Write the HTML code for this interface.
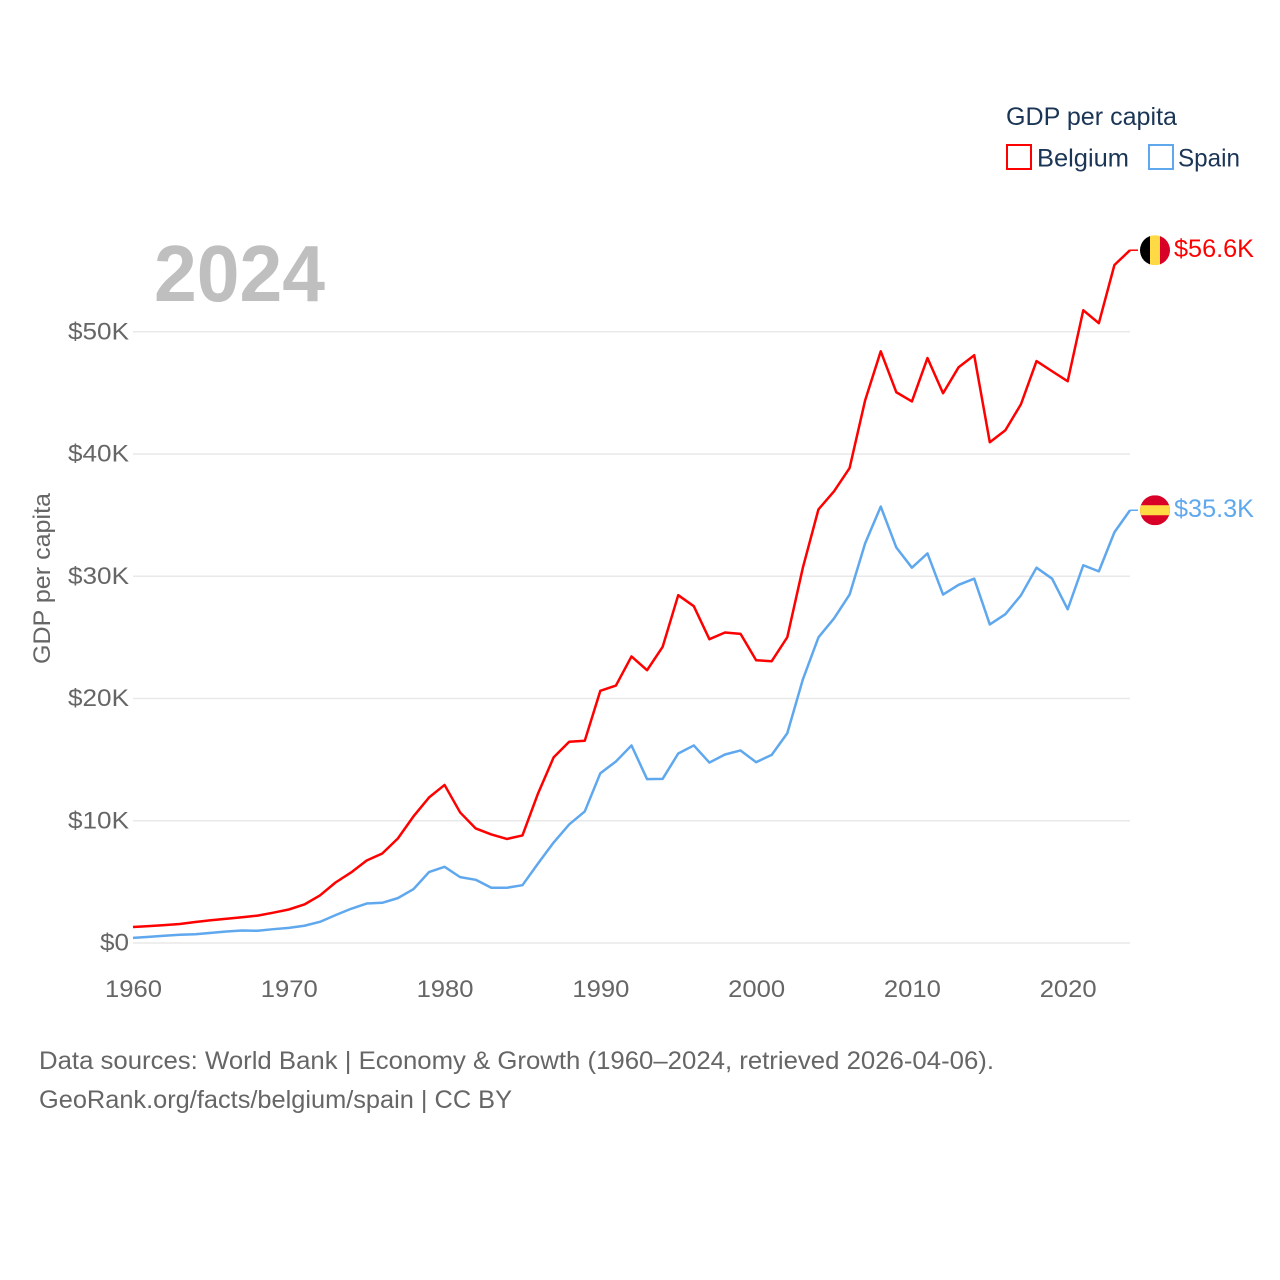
<!DOCTYPE html>
<html lang="en">
<head>
<meta charset="utf-8">
<title>GDP per capita: Belgium and Spain</title>
<style>
html,body{margin:0;padding:0;background:#fff;}
svg{display:block;}
text{font-family:"Liberation Sans",sans-serif;}
</style>
</head>
<body>
<svg id="chart" width="1280" height="1280" viewBox="0 0 1280 1280" xmlns="http://www.w3.org/2000/svg">
  <defs>
    <clipPath id="clip-be"><circle id="clip-be-c" r="15"></circle></clipPath>
    <clipPath id="clip-es"><circle id="clip-es-c" r="15"></circle></clipPath>
  </defs>
  <rect width="1280" height="1280" fill="#fff"></rect>
  <text x="154" y="301" font-size="80" font-weight="700" fill="#bfbfbf" textLength="171" lengthAdjust="spacingAndGlyphs">2024</text>
  <g id="grid"></g>
  <g id="yticks"></g>
  <g id="xticks"></g>
  <text transform="translate(50,578.5) rotate(-90)" text-anchor="middle" font-size="24.5" fill="#666" textLength="171" lengthAdjust="spacingAndGlyphs">GDP per capita</text>
  <g id="series"></g>
  <g>
    <text x="1006" y="125" font-size="25" fill="#1a3555" textLength="171" lengthAdjust="spacingAndGlyphs">GDP per capita</text>
    <g>
      <rect x="1007" y="145" width="24" height="24" fill="none" stroke="#ff0000" stroke-width="2"></rect>
      <text x="1037" y="166.5" font-size="25" fill="#1a3555" textLength="92" lengthAdjust="spacingAndGlyphs">Belgium</text>
    </g>
    <g>
      <rect x="1149" y="145" width="24" height="24" fill="none" stroke="#5fa8ee" stroke-width="2"></rect>
      <text x="1178" y="166.5" font-size="25" fill="#1a3555" textLength="62" lengthAdjust="spacingAndGlyphs">Spain</text>
    </g>
  </g>
  <text x="39" y="1069" font-size="25" fill="#666" textLength="955" lengthAdjust="spacingAndGlyphs">Data sources: World Bank | Economy &amp; Growth (1960–2024, retrieved 2026-04-06).</text>
  <text x="39" y="1108" font-size="25" fill="#666" textLength="473" lengthAdjust="spacingAndGlyphs">GeoRank.org/facts/belgium/spain | CC BY</text>
</svg>
<script>
var startYear = 1960;
var belgium = [1.31,1.38,1.46,1.55,1.72,1.86,1.98,2.11,2.24,2.48,2.74,3.15,3.89,4.95,5.77,6.75,7.32,8.55,10.35,11.9,12.93,10.68,9.37,8.88,8.51,8.8,12.23,15.18,16.46,16.54,20.63,21.06,23.44,22.32,24.23,28.45,27.55,24.85,25.4,25.29,23.13,23.05,25.01,30.7,35.47,36.95,38.85,44.4,48.4,45.05,44.3,47.85,44.97,47.1,48.08,40.96,41.94,44.07,47.6,46.77,45.95,51.76,50.7,55.46,56.67];
var spain = [0.42,0.5,0.59,0.67,0.72,0.83,0.94,1.02,1.0,1.13,1.24,1.41,1.73,2.28,2.8,3.23,3.29,3.67,4.4,5.8,6.23,5.39,5.17,4.52,4.52,4.73,6.5,8.22,9.7,10.76,13.89,14.85,16.16,13.4,13.43,15.5,16.16,14.76,15.42,15.75,14.79,15.39,17.16,21.56,25,26.55,28.5,32.7,35.7,32.35,30.7,31.87,28.5,29.3,29.8,26.06,26.9,28.44,30.7,29.8,27.3,30.9,30.4,33.6,35.4];
var yTickValues = [0,10,20,30,40,50];
var yTickLabels = ["$0","$10K","$20K","$30K","$40K","$50K"];
var xTickValues = [1960,1970,1980,1990,2000,2010,2020];
var xTickLabels = ["1960","1970","1980","1990","2000","2010","2020"];
var endLabels = ["$56.6K","$35.3K"];

var NS = "http://www.w3.org/2000/svg";
function xScale(year){ return 133 + (year - 1960) * (1130 - 133) / 64; }
function yScale(v){ return 943 - v * 12.225; }
function mk(tag, attrs, parent){
  var el = document.createElementNS(NS, tag);
  for (var k in attrs) el.setAttribute(k, attrs[k]);
  parent.appendChild(el);
  return el;
}
var grid = document.getElementById("grid");
var yticks = document.getElementById("yticks");
var xticks = document.getElementById("xticks");
var seriesG = document.getElementById("series");

yTickValues.forEach(function(v, i){
  var line = mk("line", {x1:133, x2:1130, y1:yScale(v), y2:yScale(v), stroke:"#e9e9e9", "stroke-width":1.5}, grid);
  
  
  var t = mk("text", {x:129, y:yScale(v)+7.5, "text-anchor":"end", "font-size":24.5, fill:"#666"}, yticks);
  
  
  t.textContent = yTickLabels[i];
  t.setAttribute("textLength", yTickLabels[i].length === 2 ? 29 : 61);
  t.setAttribute("lengthAdjust", "spacingAndGlyphs");
});
xTickValues.forEach(function(v, i){
  var t = mk("text", {x:xScale(v)+0.5, y:997, "text-anchor":"middle", "font-size":24.5, fill:"#666", textLength:57, lengthAdjust:"spacingAndGlyphs"}, xticks);
  
  
  t.textContent = xTickLabels[i];
});
function pathFor(values){
  return values.map(function(v, i){
    return (i ? "L" : "M") + xScale(startYear + i).toFixed(2) + " " + yScale(v).toFixed(2);
  }).join(" ");
}
function drawEnd(values, color, clipId, clipCircleId, labelText){
  var last = values[values.length - 1];
  var yEnd = yScale(last);
  var xEnd = xScale(startYear + values.length - 1);
  var stub = mk("line", {x1:xEnd, x2:xEnd + 8, y1:yEnd, y2:yEnd, stroke:color, "stroke-width":1.5}, seriesG);
  
  
  var c = document.getElementById(clipCircleId);
  c.setAttribute("cx", 1155);
  c.setAttribute("cy", yEnd);
  var flag = mk("g", {"clip-path":"url(#" + clipId + ")"}, seriesG);
  
  
  if (clipId === "clip-be") {
    mk("rect", {x:1140, y:yEnd-15, width:10, height:30, fill:"#000"}, flag);
    mk("rect", {x:1150, y:yEnd-15, width:10, height:30, fill:"#ffda44"}, flag);
    mk("rect", {x:1160, y:yEnd-15, width:10, height:30, fill:"#d80027"}, flag);
  } else {
    mk("rect", {x:1140, y:yEnd-15, width:30, height:30, fill:"#d80027"}, flag);
    mk("rect", {x:1140, y:yEnd-5, width:30, height:10, fill:"#ffda44"}, flag);
  }
  var label = mk("text", {x:1174, y:yEnd+7, "font-size":25, fill:color, textLength:80, lengthAdjust:"spacingAndGlyphs"}, seriesG);
  
  
  label.textContent = labelText;
}
var spainLine = mk("path", {d:pathFor(spain), fill:"none", stroke:"#5fa8ee", "stroke-width":2.5, "stroke-linejoin":"round"}, seriesG);


var belgiumLine = mk("path", {d:pathFor(belgium), fill:"none", stroke:"#ff0000", "stroke-width":2.5, "stroke-linejoin":"round"}, seriesG);


drawEnd(belgium, "#ff0000", "clip-be", "clip-be-c", endLabels[0]);
drawEnd(spain, "#5fa8ee", "clip-es", "clip-es-c", endLabels[1]);
</script>
</body>
</html>
